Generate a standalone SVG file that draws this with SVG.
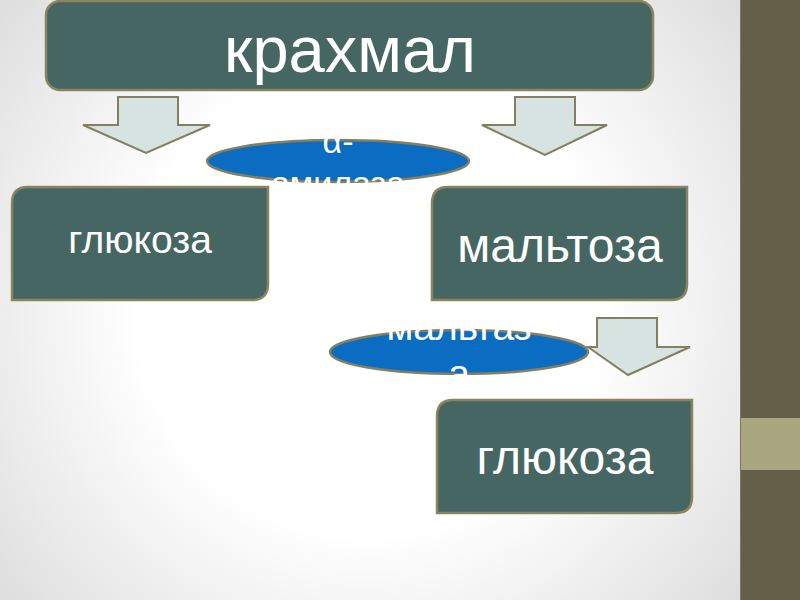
<svg xmlns="http://www.w3.org/2000/svg" width="800" height="600" viewBox="0 0 800 600">
<defs>
<radialGradient id="bg" cx="370" cy="300" r="520" gradientUnits="userSpaceOnUse">
<stop offset="0.45" stop-color="#FFFFFF"/>
<stop offset="1" stop-color="#D8D8D8"/>
</radialGradient>
<clipPath id="c1"><rect x="200" y="120" width="280" height="65"/></clipPath>
<clipPath id="c2"><rect x="320" y="321" width="280" height="59"/></clipPath>
<style>
.box{fill:#466664;stroke:#8C845F;stroke-width:2.5}
.arr{fill:#D6E3E1;stroke:#857F62;stroke-width:2}
.ell{fill:#0A6DC2;stroke:#857F62;stroke-width:2.5}
.t{font-family:"Liberation Sans",Arial,sans-serif;fill:#FFFFFF;text-anchor:middle}
</style>
</defs>
<rect x="0" y="0" width="800" height="600" fill="url(#bg)"/>
<g id="strip">
<rect x="740" y="0" width="60" height="600" fill="#655E48"/>
<rect x="740" y="418" width="60" height="52" fill="#A9A77F"/>
<line x1="740.5" y1="0" x2="740.5" y2="600" stroke="#7C7662" stroke-width="1"/>
</g>
<g id="connectors">
<path class="arr" d="M118,97 H178 V125 H210 L146,153 L83,125 H118 Z"/>
<path class="arr" d="M515,97 H575 V125 H607 L545,155 L482,125 H515 Z"/>
<path class="arr" d="M597,318 H657 V347 H690 L628,375 L588,347 H597 Z"/>
</g>
<g id="n-krakhmal">
<rect class="box" x="46" y="1" width="607" height="89" rx="14"/>
<text class="t" x="350" y="72" font-size="65">крахмал</text>
</g>
<g id="n-amylase">
<ellipse class="ell" cx="338" cy="161" rx="131" ry="21"/>
<g clip-path="url(#c1)">
<text class="t" x="338" y="153" font-size="34">α-</text>
<text class="t" x="338" y="195" font-size="34">амилаза</text>
</g>
</g>
<g id="n-glucose1">
<path class="box" d="M28,187 H268 V284 Q268,300 252,300 H12 V203 Q12,187 28,187 Z"/>
<text class="t" x="140" y="253" font-size="39">глюкоза</text>
</g>
<g id="n-maltose">
<path class="box" d="M448,187 H687 V284 Q687,300 671,300 H432 V203 Q432,187 448,187 Z"/>
<text class="t" x="560" y="262" font-size="48">мальтоза</text>
</g>
<g id="n-maltase">
<ellipse class="ell" cx="459" cy="352" rx="129" ry="22"/>
<g clip-path="url(#c2)">
<text class="t" x="459" y="340" font-size="39">мальтаз</text>
<text class="t" x="459" y="387" font-size="39">а</text>
</g>
</g>
<g id="n-glucose2">
<path class="box" d="M453,400 H692 V497 Q692,513 676,513 H437 V416 Q437,400 453,400 Z"/>
<text class="t" x="565" y="474" font-size="48">глюкоза</text>
</g>
</svg>
